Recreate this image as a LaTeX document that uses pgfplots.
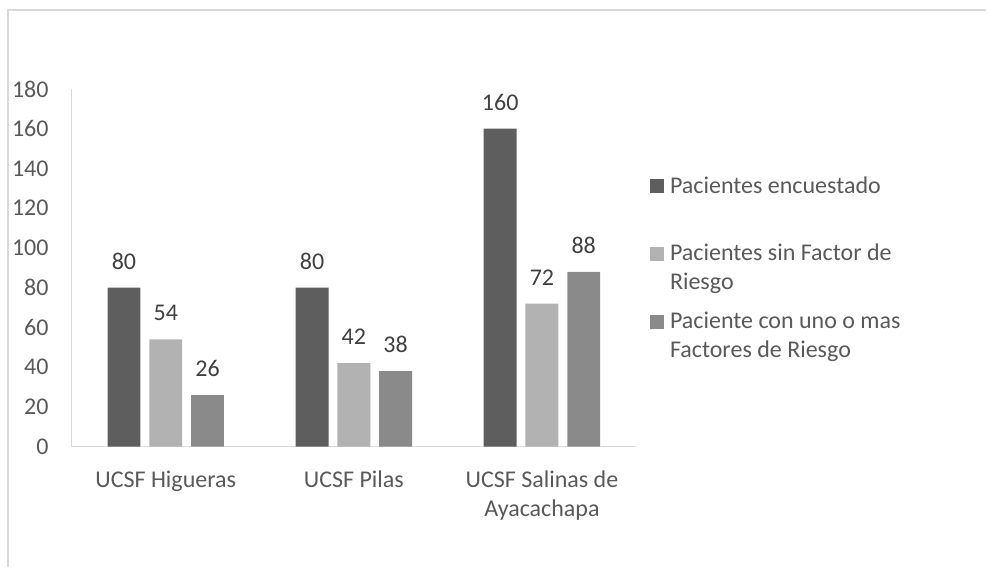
\documentclass[border=0pt]{standalone}
\usepackage{pgfplots}
\pgfplotsset{compat=1.18}
\usepackage{fontspec}
\setmainfont{Carlito}

\definecolor{barA}{HTML}{5E5E5E}
\definecolor{barB}{HTML}{B2B2B2}
\definecolor{barC}{HTML}{8A8A8A}
\definecolor{labelgray}{HTML}{595959}
\definecolor{valuegray}{HTML}{404040}
\definecolor{linegray}{HTML}{D9D9D9}

\newcommand{\chartfont}{\fontsize{12}{14.5}\selectfont}

\begin{document}
\begin{tikzpicture}
\useasboundingbox (0,0) rectangle (494pt,283.5pt);
% chart area border
\draw[linegray, line width=0.9pt] (4pt,0) -- (4pt,278.5pt) -- (493pt,278.5pt);
\begin{axis}[
  at={(35.85pt,60.15pt)}, anchor=south west,
  scale only axis, width=282.15pt, height=178.9pt,
  xmin=-0.5, xmax=2.5, ymin=0, ymax=180,
  ytick={0,20,...,180},
  xtick={0,1,2},
  xticklabels={{UCSF Higueras},{UCSF Pilas},{UCSF Salinas de\\Ayacachapa}},
  axis x line=bottom, axis y line=left,
  axis line style={linegray, line width=0.6pt, -},
  major tick length=0pt,
  /pgf/number format/assume math mode=true,
  yticklabel style={font=\chartfont, text=labelgray, anchor=east, inner sep=0pt, xshift=-11.4pt},
  xticklabel style={font=\chartfont, text=labelgray, align=center, anchor=north, inner sep=0pt, yshift=-12pt},
  ybar, bar width=0.175,
  nodes near coords,
  every node near coord/.append style={font=\chartfont, text=valuegray, inner sep=0pt, anchor=south, yshift=9pt},
  legend image code/.code={\fill[#1] (0pt,0pt) rectangle (7pt,7pt);},
  legend style={draw=none, fill=none, inner sep=0pt, outer sep=0pt,
    at={(1.0248,0.753)}, anchor=north west,
    row sep=8.85pt, column sep=3pt,
    font=\chartfont, text=labelgray,
    cells={anchor=base west},
    nodes={inner sep=0pt, text width=140pt, align=flush left, text height=8pt, text depth=17pt}},
]
\addplot[fill=barA, draw=none, bar shift=-0.222] coordinates {(0,80) (1,80) (2,160)};
\addplot[fill=barB, draw=none, bar shift=0] coordinates {(0,54) (1,42) (2,72)};
\addplot[fill=barC, draw=none, bar shift=0.222] coordinates {(0,26) (1,38) (2,88)};
\legend{Pacientes encuestado, Pacientes sin Factor de\\Riesgo, Paciente con uno o mas\\Factores de Riesgo}
\end{axis}
\end{tikzpicture}
\end{document}
